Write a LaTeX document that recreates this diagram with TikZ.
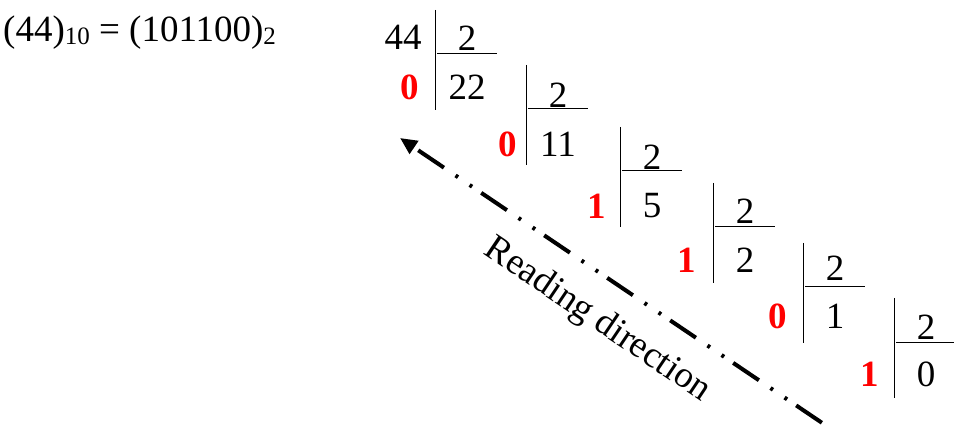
\documentclass[tikz,border=0pt]{standalone}
\usepackage{fontspec}
\setmainfont{Liberation Serif}
\usepackage{tikz}
\usetikzlibrary{arrows.meta}
\newcommand{\subnum}[1]{\raisebox{-3pt}{\fontsize{25}{25}\selectfont #1}}

\begin{document}
\begin{tikzpicture}[x=1pt,y=-1pt,
  every node/.style={font=\fontsize{37}{40}\selectfont,inner sep=0pt},
  rem/.style={text=red,font=\fontsize{37}{40}\selectfont\bfseries},
  bar/.style={line width=1pt},
  readarrow/.style={line width=4pt,{Triangle[length=17pt,width=15pt]}-,
    dash pattern=on 0pt off 6pt on 31pt off 14pt on 3pt off 14pt on 3pt off 5pt}]
  \useasboundingbox (0,0) rectangle (954,427);
  \node[anchor=base west] (eq) at (3,42) {(44)\subnum{10} = (101100)\subnum{2}};
  % corner of each division bar
  \coordinate (b1) at (435,10);
  \coordinate (b2) at (526,65);
  \coordinate (b3) at (620,127);
  \coordinate (b4) at (713,183);
  \coordinate (b5) at (803,243);
  \coordinate (b6) at (894,298);
  \node (d1) at (403,37) {44};
  \draw[bar] (b1) -- ++(0,100) (b1) ++(2,44) -- ++(60,0);
  \node (v1) at ([shift={(32,28)}]b1) {2};
  \node (q1) at ([shift={(32,77)}]b1) {22};
  \node[rem] (r1) at ([shift={(-25,77)}]b1) {0};
  \draw[bar] (b2) -- ++(0,100) (b2) ++(2,44) -- ++(60,0);
  \node (v2) at ([shift={(32,30)}]b2) {2};
  \node (q2) at ([shift={(32,79)}]b2) {11};
  \node[rem] (r2) at ([shift={(-18,79)}]b2) {0};
  \draw[bar] (b3) -- ++(0,100) (b3) ++(2,44) -- ++(60,0);
  \node (v3) at ([shift={(32,30)}]b3) {2};
  \node (q3) at ([shift={(32,79)}]b3) {5};
  \node[rem] (r3) at ([shift={(-23,79)}]b3) {1};
  \draw[bar] (b4) -- ++(0,100) (b4) ++(2,44) -- ++(60,0);
  \node (v4) at ([shift={(32,28)}]b4) {2};
  \node (q4) at ([shift={(32,77)}]b4) {2};
  \node[rem] (r4) at ([shift={(-26,77)}]b4) {1};
  \draw[bar] (b5) -- ++(0,100) (b5) ++(2,44) -- ++(60,0);
  \node (v5) at ([shift={(32,25)}]b5) {2};
  \node (q5) at ([shift={(32,73)}]b5) {1};
  \node[rem] (r5) at ([shift={(-25,73)}]b5) {0};
  \draw[bar] (b6) -- ++(0,100) (b6) ++(2,45) -- ++(60,0);
  \node (v6) at ([shift={(32,29)}]b6) {2};
  \node (q6) at ([shift={(32,76)}]b6) {0};
  \node[rem] (r6) at ([shift={(-24,76)}]b6) {1};
  % reading arrow
  \coordinate (head) at (400,138);
  \coordinate (tail) at (840,435);
  \draw[readarrow] (head) -- (tail)
    node[pos=0.5,sloped,below=22pt] (lbl) {Reading direction};
\end{tikzpicture}
\end{document}
